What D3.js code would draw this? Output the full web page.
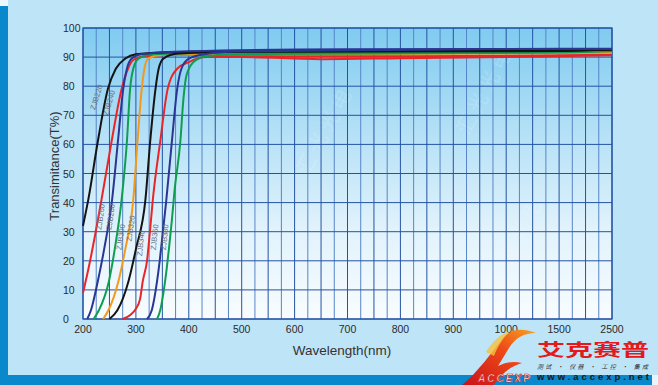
<!DOCTYPE html>
<html>
<head>
<meta charset="utf-8">
<script src="https://cdn.jsdelivr.net/npm/d3@7"></script>
<style>
  body { margin: 0; background: #bee4f8; }
  svg { display: block; font-family: "Liberation Sans", Arial, sans-serif; }
</style>
</head>
<body>
<div id="chart"></div>
<script>
// tick labels
const xTicks = [200, 300, 400, 500, 600, 700, 800, 900, 1000, 1500, 2500]
const yTicks = [0, 10, 20, 30, 40, 50, 60, 70, 80, 90, 100]

// curve names: [wavelength nm, T%]
const names = ["ZJB220", "ZJB240", "ZJB260", "ZJB280", "ZJB300", "ZJB320", "ZJB340", "ZJB360", "ZJB380"]

const zjb220 = [[200,32],[210,41],[228,61],[247,79],[262,86],[280,89.5],[300,91],[350,91.6],[500,92],[1000,92.2],[1500,92.3],[2500,92.5]]
const zjb240 = [[200,9],[210,17],[222,28],[235,41],[254,61],[273,79],[285,86],[295,89],[320,90.4],[400,90.8],[600,90.3],[800,90.3],[1000,90.5],[2500,90.8]]
const zjb260 = [[208,0],[215,3],[228,13],[240,24],[255,41],[266,61],[276,79],[283,86],[292,89.5],[310,91],[400,92],[700,92.7],[1000,92.8],[2500,92.8]]
const zjb280 = [[220,0],[230,3],[249,13],[260,24],[273,41],[283,61],[289,79],[295,86],[305,89.5],[330,91],[500,91.5],[1000,91.5],[1500,91.6],[2500,92.2]]
const zjb300 = [[238,0],[248,3],[267,13],[280,24],[295,41],[303,61],[311,79],[316,86],[323,89.5],[350,90.8],[500,91],[1000,91.2],[2500,91.5]]
const zjb320 = [[250,0],[265,3],[286,13],[300,24],[318,41],[327,61],[337,79],[343,86],[352,89.5],[380,91.2],[500,91.8],[1000,92],[1500,92.1],[2500,92.6]]
const zjb340 = [[275,0],[290,1.5],[300,3.5],[308,7],[313,13],[321,20],[327,31],[332,41],[346,61],[360,79],[378,86],[400,88.3],[433,90],[500,90],[650,89.3],[800,89.6],[1000,90],[2500,90.6]]
const zjb360 = [[321,0],[330,3],[340,13],[345,20],[351,30],[357,40],[368,61],[378,79],[386,86],[400,89.5],[430,91],[500,92],[1000,92.8],[2500,92.9]]
const zjb380 = [[340,0],[346,3],[352,9],[358,17],[363,25],[368,34],[373,44],[384,61],[390,76],[396,84],[410,88.5],[435,90.4],[500,91],[1000,91.5],[2500,92]]

const curves = [zjb220, zjb240, zjb260, zjb280, zjb300, zjb320, zjb340, zjb360, zjb380]

// where each curve's name sits, [wavelength, T%]
const labelAt = [[230,76],[254,74],[238,35],[257,35],[276,28],[295,31],[314,26],[340,28],[359,28]]

// styles
const colors = ["#141414", "#e8262a", "#2b3592", "#0f9e4f", "#f39a1e", "#141414", "#e8262a", "#2b3592", "#0f9e4f"]
const labelTilt = [-73, -74, -82, -82, -82, -82, -84, -84, -84]
const drawOrder = [1, 6, 4, 3, 8, 0, 5, 2, 7]

const W = 658, H = 385
const L = 83, R = 612, T = 28, B = 319

let svg = d3.select("#chart").append("svg")
    .attr("width", W)
    .attr("height", H)

let defs = svg.append("defs")
let grad = defs.append("linearGradient").attr("id", "plotBg")
    .attr("x1", 0).attr("y1", 0).attr("x2", 0).attr("y2", 1)
grad.append("stop").attr("offset", 0).attr("stop-color", "#7fcbf0")
grad.append("stop").attr("offset", 0.35).attr("stop-color", "#b3e0f6")
grad.append("stop").attr("offset", 0.7).attr("stop-color", "#e2f3fc")
grad.append("stop").attr("offset", 1).attr("stop-color", "#f8fcfe")

let logoGrad = defs.append("linearGradient").attr("id", "logoGrad")
    .attr("x1", 0).attr("y1", 1).attr("x2", 1).attr("y2", 0)
logoGrad.append("stop").attr("offset", 0).attr("stop-color", "#c8101a")
logoGrad.append("stop").attr("offset", 0.6).attr("stop-color", "#ee4a18")
logoGrad.append("stop").attr("offset", 1).attr("stop-color", "#f9a21e")

// page frame
svg.append("rect").attr("width", W).attr("height", H).attr("fill", "#bee4f8")
svg.append("rect").attr("x", 0).attr("y", 6).attr("width", 8).attr("height", H).attr("fill", "#0a88cc")
svg.append("rect").attr("x", 0).attr("y", 0).attr("width", 8).attr("height", 6).attr("fill", "#eef7fc")
svg.append("rect").attr("x", 0).attr("y", 375).attr("width", 652).attr("height", 10).attr("fill", "#0a88cc")
svg.append("rect").attr("x", 652).attr("y", 375).attr("width", 6).attr("height", 10).attr("fill", "#e9f5fc")

let x = d3.scaleLinear()
    .domain(xTicks)
    .range(xTicks.map((d, i) => L + i * (R - L) / (xTicks.length - 1)))
let y = d3.scaleLinear().domain([0, 100]).range([B, T])

svg.append("rect")
    .attr("x", L).attr("y", T)
    .attr("width", R - L).attr("height", B - T)
    .attr("fill", "url(#plotBg)")

// faint watermark
const wm = [[330, 135], [520, 245], [490, 95]]
svg.selectAll("text.wm")
    .data(wm)
    .enter()
    .append("text")
    .attr("class", "wm")
    .attr("transform", d => "translate(" + d[0] + "," + d[1] + ") rotate(-62)")
    .attr("text-anchor", "middle")
    .attr("font-size", 20)
    .attr("font-family", "Noto Sans CJK SC")
    .attr("fill", "#ffffff")
    .attr("opacity", 0.16)
    .text("汇 光 光 电")

// grid
let vlines = d3.range(41).map(i => L + i * (R - L) / 40)
svg.selectAll("line.v")
    .data(vlines)
    .enter()
    .append("line")
    .attr("class", "v")
    .attr("x1", d => d).attr("x2", d => d)
    .attr("y1", T).attr("y2", B)
    .attr("stroke", (d, i) => i % 2 ? "#5785c8" : "#2453a4")
    .attr("stroke-width", 1)

svg.selectAll("line.h")
    .data(yTicks)
    .enter()
    .append("line")
    .attr("class", "h")
    .attr("x1", L).attr("x2", R)
    .attr("y1", d => y(d)).attr("y2", d => y(d))
    .attr("stroke", "#2453a4")
    .attr("stroke-width", 1)

svg.append("rect")
    .attr("x", L).attr("y", T)
    .attr("width", R - L).attr("height", B - T)
    .attr("fill", "none").attr("stroke", "#2453a4").attr("stroke-width", 1.2)

// axes labels
svg.selectAll("text.ytick")
    .data(yTicks)
    .enter()
    .append("text")
    .attr("class", "ytick")
    .attr("x", 63)
    .attr("y", d => y(d) + 4)
    .attr("font-size", 10.5)
    .attr("fill", "#2a2a2a")
    .text(d => d)

svg.selectAll("text.xtick")
    .data(xTicks)
    .enter()
    .append("text")
    .attr("class", "xtick")
    .attr("x", d => x(d))
    .attr("y", 333)
    .attr("text-anchor", "middle")
    .attr("font-size", 10.5)
    .attr("fill", "#2a2a2a")
    .text(d => d)

svg.append("text")
    .attr("x", 342).attr("y", 355)
    .attr("text-anchor", "middle")
    .attr("font-size", 13.5)
    .attr("fill", "#333")
    .text("Wavelength(nm)")

svg.append("text")
    .attr("transform", "translate(59,166) rotate(-90)")
    .attr("text-anchor", "middle")
    .attr("font-size", 13)
    .attr("fill", "#333")
    .text("Transimitance(T%)")

// curves
let line = d3.line()
    .x(d => x(d[0]))
    .y(d => y(d[1]))
    .curve(d3.curveMonotoneX)

svg.selectAll("path.curve")
    .data(drawOrder)
    .enter()
    .append("path")
    .attr("class", "curve")
    .attr("d", i => line(curves[i]))
    .attr("fill", "none")
    .attr("stroke", i => colors[i])
    .attr("stroke-width", 2)

svg.selectAll("text.cname")
    .data(names)
    .enter()
    .append("text")
    .attr("class", "cname")
    .attr("transform", (d, i) => "translate(" + x(labelAt[i][0]) + "," + y(labelAt[i][1]) + ") rotate(" + labelTilt[i] + ")")
    .attr("text-anchor", "middle")
    .attr("font-size", 7.5)
    .attr("fill", "#6a6f78")
    .text(d => d)

// logo, bottom right
let logo = svg.append("g")
logo.append("path")
    .attr("d", "M462,385 C478,372 492,352 503,338 C510,330 520,327 536,333 C524,333 515,338 509,348 L498,366 C506,362 514,361 522,363 C512,366 502,372 494,385 Z")
    .attr("fill", "url(#logoGrad)")
logo.append("path")
    .attr("d", "M486,352 C492,342 500,334 510,331 C503,338 498,346 494,356 Z")
    .attr("fill", "#f7c23a")
    .attr("opacity", 0.8)
logo.append("text")
    .attr("x", 478).attr("y", 382)
    .attr("font-size", 10)
    .attr("font-weight", "bold")
    .attr("font-style", "italic")
    .attr("fill", "#fff6e0")
    .attr("stroke", "#c8101a")
    .attr("stroke-width", 0.6)
    .attr("textLength", 52)
    .text("ACCEXP")
logo.append("text")
    .attr("x", 537).attr("y", 356)
    .attr("font-size", 17.5)
    .attr("font-weight", "bold")
    .attr("font-family", "Noto Sans CJK SC")
    .attr("fill", "#e3191b")
    .attr("textLength", 112)
    .attr("lengthAdjust", "spacingAndGlyphs")
    .text("艾克赛普")
logo.append("text")
    .attr("x", 537).attr("y", 369)
    .attr("font-size", 6)
    .attr("font-style", "italic")
    .attr("font-family", "Noto Sans CJK SC")
    .attr("fill", "#333")
    .attr("textLength", 111)
    .text("测试 · 仪器 · 工控 · 集成")
logo.append("text")
    .attr("x", 537).attr("y", 379.5)
    .attr("font-size", 9.5)
    .attr("font-weight", "bold")
    .attr("fill", "#1a1a1a")
    .attr("textLength", 112)
    .text("www.accexp.net")
</script>
</body>
</html>
